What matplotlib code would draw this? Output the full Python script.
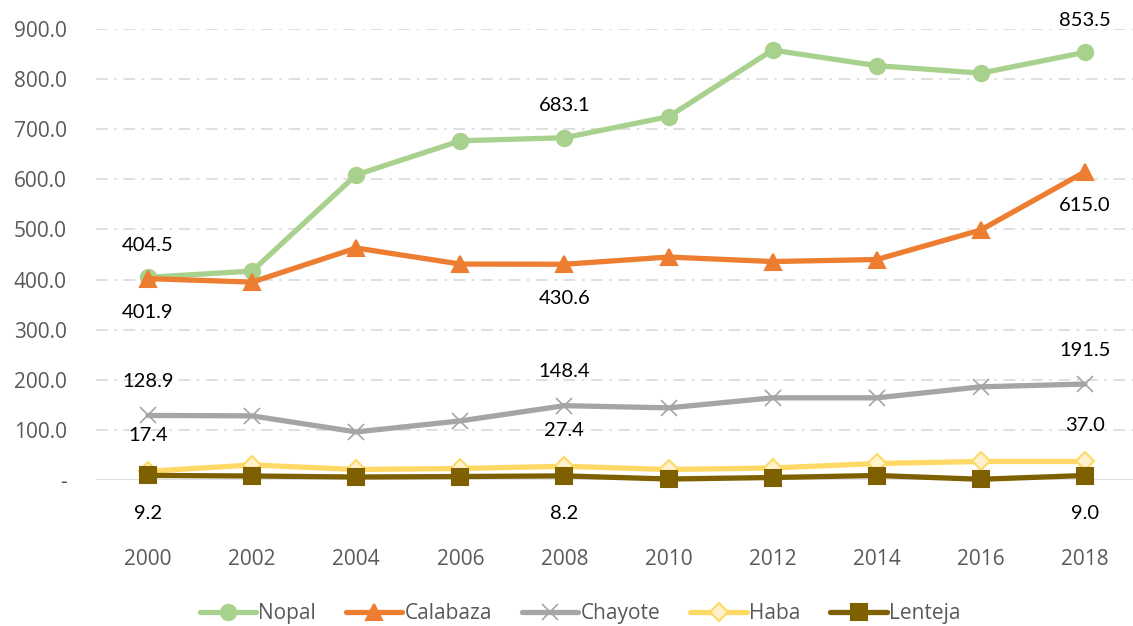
import matplotlib
matplotlib.use("Agg")
import matplotlib.pyplot as plt
import numpy as np

years = [2000, 2002, 2004, 2006, 2008, 2010, 2012, 2014, 2016, 2018]
nopal = [404.5, 417, 609, 677, 683.1, 725, 858, 827, 812, 853.5]
calabaza = [401.9, 395, 463, 431, 430.6, 445, 436, 440, 499, 615.0]
chayote = [128.9, 128, 96, 118, 148.4, 144, 164, 164, 186, 191.5]
haba = [17.4, 30, 21, 23, 27.4, 21, 24, 33, 37, 37.0]
lenteja = [9.2, 8, 6, 7, 8.2, 2, 5, 9, 1.5, 9.0]

names = ['Nopal', 'Calabaza', 'Chayote', 'Haba', 'Lenteja']
label_years = [2000, 2008, 2018]

fig = plt.figure(figsize=(11.33, 6.26), dpi=100)
ax = fig.add_axes([0.0847, 0.2332, 0.9188, 0.7204])

# (data, color, marker, markerface, markeredge, size, label offset px)
series = [
    (nopal, '#A9D18E', 'o', '#A9D18E', '#A9D18E', 11, 32),
    (calabaza, '#ED7D31', '^', '#ED7D31', '#ED7D31', 12, -34),
    (chayote, '#A5A5A5', 'x', '#A5A5A5', '#A5A5A5', 11, 34),
    (haba, '#FFD966', 'D', '#FFF2CC', '#FFD966', 9, 36),
    (lenteja, '#7F6000', 's', '#7F6000', '#7F6000', 11, -38),
]

for name, (vals, col, mk, mfc, mec, ms, off) in zip(names, series):
    ax.plot(years, vals, color=col, lw=3.8, marker=mk, ms=ms, mfc=mfc, mec=mec,
            mew=1.5 if mk != 'x' else 1.2, label=name, clip_on=False, zorder=3,
            solid_capstyle='round')
    for yr in label_years:
        v = vals[years.index(yr)]
        ax.annotate(f'{v:.1f}', (yr, v), xytext=(0, off * 0.72), textcoords='offset points',
                    ha='center', va='center', fontsize=14.5, color='black', family='Lato')

ax.set_xlim(1999, 2019)
ax.set_ylim(0, 900)
ax.set_xticks(years)
ax.set_yticks(np.arange(0, 901, 100))
ax.set_yticklabels(['-'] + [f'{v:.1f}' for v in np.arange(100, 901, 100)])

for s in ax.spines.values():
    s.set_visible(False)
ax.axhline(0, color='#D9D9D9', lw=1.2, zorder=1)
for yv in np.arange(100, 901, 100):
    ax.axhline(yv, color='#D9D9D9', lw=1.2, dashes=(7, 4, 1.5, 4), zorder=1)

ax.tick_params(axis='both', length=0, labelsize=15, labelcolor='#595959')
ax.tick_params(axis='x', pad=50)
ax.tick_params(axis='y', pad=21)
for lbl in ax.get_xticklabels() + ax.get_yticklabels():
    lbl.set_family('Open Sans')

leg = ax.legend(loc='center', bbox_to_anchor=(0.465, -0.297), ncol=5, frameon=False,
                handlelength=2.7, columnspacing=1.45, handletextpad=0.1,
                prop={'family': 'Open Sans', 'size': 15})
for t in leg.get_texts():
    t.set_color('#595959')

fig.savefig('out.png', dpi=100)
